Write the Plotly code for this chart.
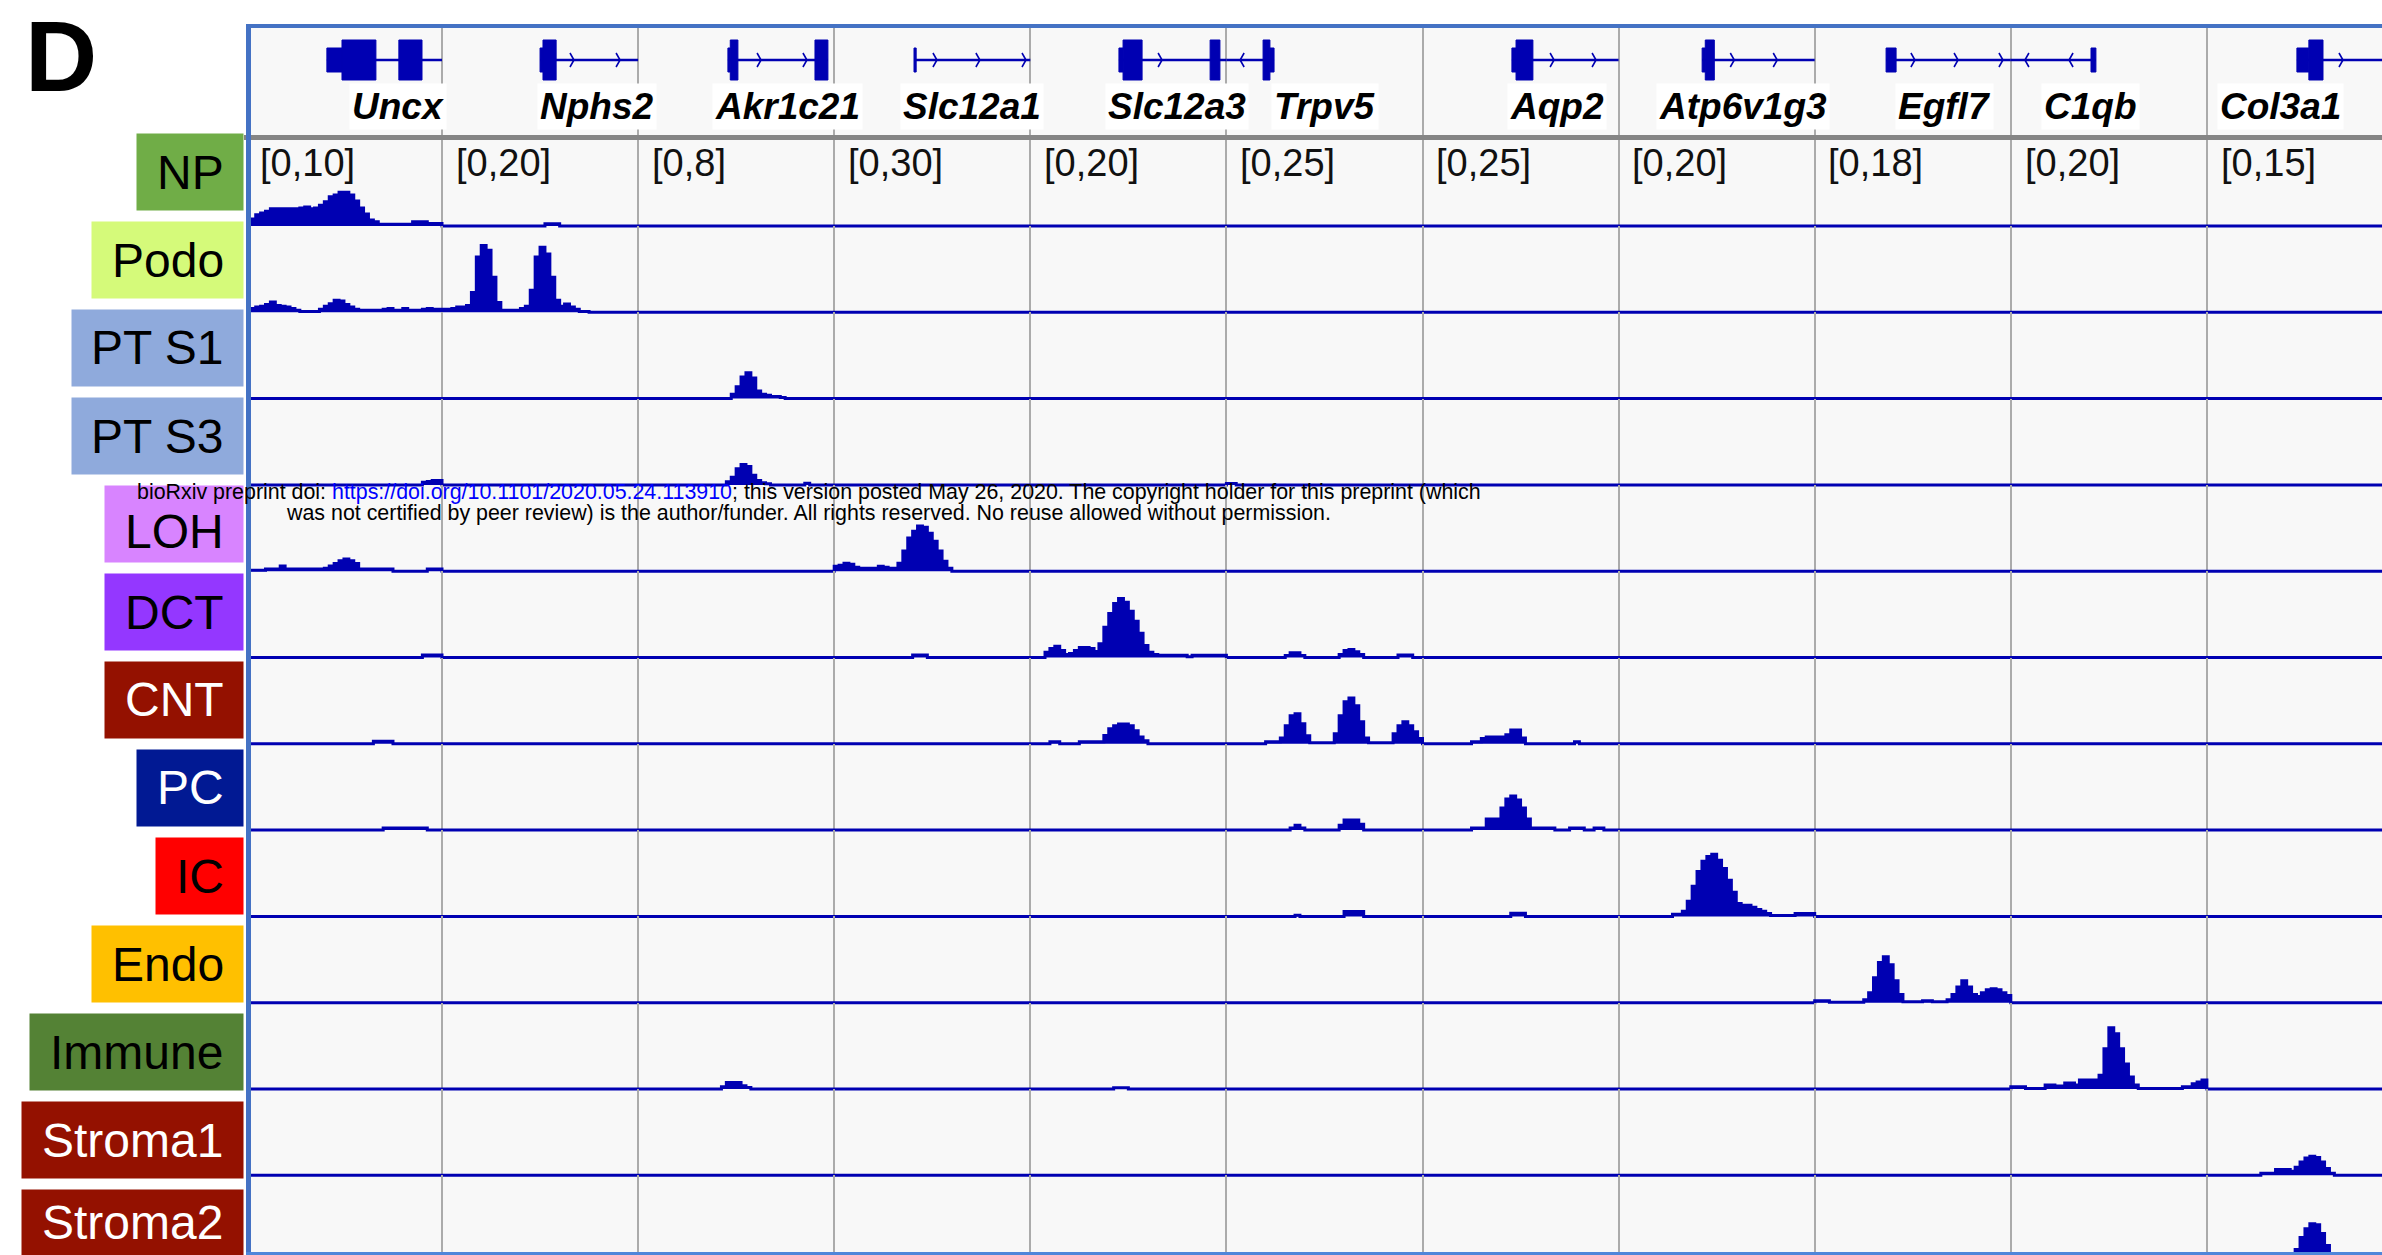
import plotly.graph_objects as go

W, H = 2382, 1255

# ---------------- data ----------------
TRACKS = ["NP", "Podo", "PT S1", "PT S3", "LOH", "DCT", "CNT", "PC", "IC",
          "Endo", "Immune", "Stroma1", "Stroma2"]
GENES = ["Uncx", "Nphs2", "Akr1c21", "Slc12a1", "Slc12a3", "Trpv5", "Aqp2",
         "Atp6v1g3", "Egfl7", "C1qb", "Col3a1"]
RANGE_MAX = [10, 20, 8, 30, 20, 25, 25, 20, 18, 20, 15]
RANGE_LABELS = ["[0,10]", "[0,20]", "[0,8]", "[0,30]", "[0,20]", "[0,25]",
                "[0,25]", "[0,20]", "[0,18]", "[0,20]", "[0,15]"]
N_BINS = 40  # coverage bins per gene window

# coverage per track: {window index: [(first bin, [values...]), ...]}
COV_NP = {
    0: [(0, [0.6, 0.8, 1.3, 1.5, 1.7, 2.0, 2.0, 2.0, 2.0, 2.0, 2.0, 2.1, 2.2, 2.0, 2.1, 2.4,
             2.8, 3.4, 3.6, 3.9, 3.9, 3.6, 2.9, 2.1, 1.4, 0.7, 0.5, 0.2, 0.2, 0.2, 0.2, 0.2,
             0.2, 0.2, 0.5, 0.5, 0.5, 0.3, 0.3, 0.3])],
    1: [(21, [0.5, 0.5, 0.5])],
}
COV_PODO = {
    0: [(0, [0.35, 0.45, 0.6, 0.7, 0.9, 1.2, 0.8, 0.7, 0.6, 0.45, 0.25, 0.1, 0.1, 0.1, 0.1,
             0.35, 0.7, 1.0, 1.4, 1.3, 0.9, 0.6, 0.35, 0.25, 0.25, 0.25, 0.25, 0.25, 0.35,
             0.45, 0.25, 0.25, 0.45, 0.25, 0.25, 0.25, 0.35, 0.45, 0.35, 0.35])],
    1: [(0, [0.7, 0.7, 0.9, 1.2, 1.2, 1.6, 4.6, 12.8, 15.5, 14.4, 8.1, 2.3, 0.5, 0.5, 0.5,
             0.5, 0.9, 1.4, 5.1, 12.8, 15.1, 13.5, 8.1, 2.8, 1.4, 1.9, 1.2, 0.7, 0.2, 0.2])],
}
COV_PTS1 = {
    2: [(19, [0.4, 1.1, 2.0, 2.4, 1.9, 0.7, 0.4, 0.3, 0.2, 0.2, 0.1])],
}
COV_PTS3 = {
    0: [(36, [0.3, 0.4, 0.5, 0.5])],
    2: [(18, [0.3, 0.7, 1.5, 1.9, 1.7, 0.9, 0.4, 0.2, 0.1]), (34, [0.15])],
    5: [(0, [0.4, 0.4])],
}
COV_LOH = {
    0: [(0, [0.1, 0.1, 0.1, 0.1, 0.25, 0.25, 0.25, 0.6, 0.25, 0.25, 0.25, 0.25, 0.25, 0.25,
             0.25, 0.25, 0.35, 0.6, 0.9, 1.2, 1.4, 1.2, 0.9, 0.25, 0.25, 0.25, 0.25, 0.25,
             0.25, 0.25]), (37, [0.25, 0.25, 0.25])],
    3: [(0, [1.7, 2.1, 2.8, 2.4, 1.4, 1.0, 1.0, 1.0, 1.0, 1.7, 1.4, 1.0, 1.0, 2.8, 7.0, 11.5,
             13.9, 15.7, 15.3, 13.2, 10.4, 7.0, 3.5, 1.0])],
}
COV_DCT = {
    0: [(36, [0.3, 0.3, 0.3, 0.3])],
    3: [(16, [0.9, 0.9, 0.9])],
    4: [(0, [0, 0, 0, 1.2, 2.1, 2.6, 1.6, 0.7, 0.9, 1.6, 2.3, 2.3, 2.1, 1.4, 3.2, 7.0, 10.2,
             12.5, 13.7, 12.8, 10.7, 8.4, 5.6, 2.8, 1.2, 0.7, 0.5, 0.5, 0.5, 0.5, 0.5, 0.5,
             0.2, 0.5, 0.5, 0.5, 0.5, 0.5, 0.5, 0.5])],
    5: [(12, [0.6, 1.4, 1.4, 0.6]), (23, [0.9, 2.0, 2.3, 1.7, 0.9]), (35, [0.7, 0.7, 0.7])],
}
COV_CNT = {
    0: [(26, [0.3, 0.3, 0.3, 0.3])],
    4: [(4, [0.5, 0.5]), (10, [0.5, 0.5, 0.5, 0.5, 0.5, 1.9, 3.5, 4.2, 4.6, 4.6, 4.2, 3.0,
                                1.6, 0.7])],
    5: [(8, [0.6, 0.6, 0.6, 1.7, 5.2, 8.1, 8.7, 5.8, 2.3, 0.3, 0.3, 0.3, 0.3, 0.3, 2.9, 8.1,
             12.2, 13.3, 11.0, 6.4, 1.7, 0.3, 0.3, 0.3, 0.3, 0.3, 2.9, 5.2, 6.4, 5.2, 3.5,
             1.5])],
    6: [(10, [0.6, 0.6, 1.5, 2.0, 2.0, 2.0, 2.0, 2.6, 4.0, 4.0, 1.7]), (31, [0.6])],
}
COV_PC = {
    0: [(28, [0.25, 0.25, 0.25, 0.25, 0.25, 0.25, 0.25, 0.25, 0.25])],
    5: [(13, [0.6, 1.4, 0.6]), (23, [1.4, 2.9, 2.9, 2.9, 1.7])],
    6: [(10, [0.6, 0.6, 0.6, 3.2, 3.2, 3.2, 6.4, 9.0, 9.9, 8.7, 6.4, 3.2, 0.6, 0.6, 0.6,
              0.6, 0.6]), (30, [0.6, 0.6, 0.6]), (35, [0.6, 0.6])],
}
COV_IC = {
    5: [(14, [0.3]), (24, [1.4, 1.4, 1.4, 1.4])],
    6: [(18, [0.9, 0.9, 0.9])],
    7: [(11, [0.5, 0.5, 1.2, 3.5, 7.0, 10.4, 12.8, 13.9, 14.4, 13.0, 11.1, 8.4, 5.6, 3.0,
              2.6, 2.6, 2.1, 1.6, 1.2, 0.7, 0.2, 0.2, 0.2, 0.2, 0.2, 0.7, 0.7, 0.7, 0.7])],
}
COV_ENDO = {
    8: [(0, [0.4, 0.4, 0.4, 0.1, 0.1, 0.1, 0.1, 0.1, 0.1, 0.1, 0.6, 2.1, 5.2, 8.4, 9.6, 7.9,
             4.6, 1.7, 0.2, 0.2, 0.2, 0.2, 0.4, 0.4, 0.2, 0.2, 0.2, 0.6, 1.7, 3.3, 4.6, 3.3,
             1.7, 1.3, 2.1, 2.7, 2.9, 2.7, 2.1, 1.5])],
}
COV_IMMUNE = {
    2: [(17, [0.2, 0.6, 0.6, 0.6, 0.3, 0.15])],
    4: [(17, [0.3, 0.3, 0.3])],
    9: [(0, [0.5, 0.5, 0.5, 0.1, 0.1, 0.1, 0.1, 0.9, 0.9, 0.7, 0.7, 1.4, 1.4, 0.9, 2.1, 2.1,
             2.1, 2.1, 3.2, 9.3, 14.2, 12.8, 9.3, 5.8, 2.8, 0.9, 0.1, 0.1, 0.1, 0.1, 0.1,
             0.1, 0.1, 0.1, 0.1, 0.5, 0.5, 1.2, 1.6, 2.1])],
}
COV_STROMA1 = {
    10: [(11, [0.35, 0.35, 0.35, 1.0, 1.0, 1.0, 0.7, 1.4, 2.3, 3.0, 3.3, 3.1, 2.3, 1.2, 0.35])],
}
COV_STROMA2 = {
    10: [(14, [0.35, 0.35, 0.35, 0.35, 2.1, 4.2, 5.7, 6.6, 6.4, 4.9, 2.8, 0.7])],
}
COVERAGE = [COV_NP, COV_PODO, COV_PTS1, COV_PTS3, COV_LOH, COV_DCT, COV_CNT, COV_PC,
            COV_IC, COV_ENDO, COV_IMMUNE, COV_STROMA1, COV_STROMA2]

# gene models (window coordinates: window i spans [i, i+1])
GENE_SPANS = [(0.413, 1.0), (1.500, 2.0), (2.458, 2.968), (3.407, 4.0), (4.452, 5.0),
              (5.0, 5.243), (6.456, 7.0), (7.426, 8.0), (8.364, 9.0), (9.0, 9.434),
              (10.459, 11.0)]
EXONS_THICK = [(0.490, 0.663), (0.780, 0.898), (1.515, 1.582), (2.470, 2.509),
               (2.902, 2.968), (4.473, 4.570), (4.917, 4.967), (5.187, 5.222),
               (6.477, 6.563), (7.442, 7.488), (10.520, 10.592)]
EXONS_THIN = [(0.413, 0.490), (1.500, 1.515), (2.458, 2.470), (3.407, 3.418),
              (4.452, 4.473), (5.222, 5.243), (6.456, 6.477), (7.426, 7.442),
              (8.364, 8.415), (9.409, 9.434), (10.459, 10.520)]
STRAND_MARKS_FWD = [1.673, 1.908, 2.627, 2.861, 3.524, 3.743, 3.978, 4.672, 6.671, 6.885,
                    7.590, 7.809, 8.511, 8.731, 8.960, 10.694]
STRAND_MARKS_REV = [5.070, 9.072, 9.297]
GENE_LABEL_X = [0.776, 1.790, 2.760, 3.703, 4.748, 5.503, 6.686, 7.634, 8.660, 9.404, 10.376]

# ---------------- styles / layout geometry ----------------
LABEL_COLORS = ["#70AD47", "#D5FA7A", "#8FAADC", "#8FAADC", "#D884FF", "#9437FF",
                "#941100", "#011993", "#FF0000", "#FFC000", "#548235", "#941100", "#941100"]
LABEL_TEXT_COLORS = ["black", "black", "black", "black", "black", "black", "white",
                     "white", "black", "black", "black", "white", "white"]
LABEL_WIDTHS = [107, 152, 172, 172, 139, 139, 139, 107, 88, 152, 214, 222, 222]

COV_COLOR = "#0000B2"
FONT = "Liberation Sans, Arial, Helvetica, sans-serif"

X0_PX = 245.9       # pixel of window coordinate 0
WIN_PX = 196.1      # pixels per window
ROW0_BASE = 226.0   # baseline pixel of first track
ROW_PX = 86.3       # track height in pixels
GENE_TOP, GENE_BOT = 26.0, 137.0
FRAME_X = 248.0
BOX_RIGHT = 243.5


def px_x(p):
    return p / W


def px_y(p):
    return 1 - p / H


fig = go.Figure()

# ---------------- gene track ----------------
GY = GENE_BOT - 60.0   # gene centre line in gene-axis units (pixels above track bottom)
ix, iy = [], []
for s, e in GENE_SPANS:
    ix += [s, e, None]
    iy += [GY, GY, None]
fig.add_trace(go.Scatter(x=ix, y=iy, mode="lines", line=dict(color=COV_COLOR, width=2.5),
                         xaxis="x", yaxis="y", hoverinfo="skip"))

for exons, hh in ((EXONS_THICK, 20), (EXONS_THIN, 12)):
    ex, ey = [], []
    for s, e in exons:
        ex += [s, e, e, s, s, None]
        ey += [GY - hh, GY - hh, GY + hh, GY + hh, GY - hh, None]
    fig.add_trace(go.Scatter(x=ex, y=ey, mode="lines", fill="toself", fillcolor=COV_COLOR,
                             line=dict(color=COV_COLOR, width=1), xaxis="x", yaxis="y",
                             hoverinfo="skip"))

cx, cy = [], []
dxw = 4.0 / WIN_PX
for pos_list, d in ((STRAND_MARKS_FWD, 1), (STRAND_MARKS_REV, -1)):
    for c in pos_list:
        cx += [c - d * dxw, c, c - d * dxw, None]
        cy += [GY + 7, GY, GY - 7, None]
fig.add_trace(go.Scatter(x=cx, y=cy, mode="lines", line=dict(color=COV_COLOR, width=1.6),
                         xaxis="x", yaxis="y", hoverinfo="skip"))

# ---------------- coverage tracks ----------------
layout_axes = {}
for r, cov in enumerate(COVERAGE):
    xs, ys = [], []
    for c in range(len(GENES)):
        vals = [0.0] * N_BINS
        for start, seg in cov.get(c, []):
            for i, v in enumerate(seg):
                if start + i < N_BINS:
                    vals[start + i] = v
        for b in range(N_BINS):
            xs.append(c + b / N_BINS)
            ys.append(vals[b] / RANGE_MAX[c])
    xs.append(float(len(GENES)))
    ys.append(ys[-1])
    yname = "y%d" % (r + 2)
    fig.add_trace(go.Scatter(x=xs, y=ys, mode="lines", line_shape="hv", fill="tozeroy",
                             fillcolor=COV_COLOR, line=dict(color=COV_COLOR, width=3),
                             xaxis="x", yaxis=yname, name=TRACKS[r], hoverinfo="skip"))
    yb = ROW0_BASE + ROW_PX * r
    top = yb - ROW_PX
    bot = min(yb + 3.0, H)
    layout_axes["yaxis%d" % (r + 2)] = dict(
        domain=[px_y(bot), px_y(top)], range=[(yb - bot) / ROW_PX, 1.0],
        visible=False, showgrid=False, zeroline=False, fixedrange=True)

layout_axes["yaxis"] = dict(domain=[px_y(GENE_BOT), px_y(GENE_TOP)],
                            range=[0, GENE_BOT - GENE_TOP], visible=False,
                            showgrid=False, zeroline=False)

x_lo = (FRAME_X - X0_PX) / WIN_PX
x_hi = (W - X0_PX) / WIN_PX
layout_axes["xaxis"] = dict(domain=[px_x(FRAME_X), 1.0], range=[x_lo, x_hi],
                            tickvals=list(range(1, len(GENES))), showticklabels=False,
                            ticks="", showline=False, zeroline=False, showgrid=True,
                            gridcolor="#ABABAB", gridwidth=1.5)

annotations = []
shapes = [
    dict(type="rect", xref="paper", yref="paper", x0=px_x(FRAME_X), x1=1, y0=0,
         y1=px_y(GENE_TOP), fillcolor="#F8F8F8", line=dict(width=0), layer="below"),
]

# gene labels
for g, gx in zip(GENES, GENE_LABEL_X):
    annotations.append(dict(x=gx, y=GENE_BOT - 106, xref="x", yref="y",
                            text="<b><i>%s</i></b>" % g, showarrow=False,
                            font=dict(family=FONT, size=37, color="black"),
                            bgcolor="white", borderpad=2, xanchor="center", yanchor="middle"))
# data range labels (first track)
for c, lab in enumerate(RANGE_LABELS):
    annotations.append(dict(x=c + 0.06, y=px_y(163), xref="x", yref="paper", text=lab,
                            showarrow=False, xanchor="left", yanchor="middle",
                            font=dict(family=FONT, size=38, color="#111111")))
# track name boxes (coloured rectangle + centred name)
for r, name in enumerate(TRACKS):
    yc = 172 + 88.0 * r
    y_top, y_bot = yc - 38.5, min(yc + 38.5, H)
    shapes.append(dict(type="rect", xref="paper", yref="paper",
                       x0=px_x(BOX_RIGHT - LABEL_WIDTHS[r]), x1=px_x(BOX_RIGHT),
                       y0=px_y(y_bot), y1=px_y(y_top), fillcolor=LABEL_COLORS[r],
                       line=dict(width=0), layer="above"))
    ty = (y_top + y_bot) / 2
    if name == "LOH":
        ty += 7.5
    annotations.append(dict(x=px_x(BOX_RIGHT - LABEL_WIDTHS[r] / 2), y=px_y(ty),
                            xref="paper", yref="paper", text=name, showarrow=False,
                            xanchor="center", yanchor="middle", borderpad=0,
                            font=dict(family=FONT, size=48, color=LABEL_TEXT_COLORS[r])))
# panel letter
annotations.append(dict(x=px_x(24), y=px_y(56), xref="paper", yref="paper", text="<b>D</b>",
                        showarrow=False, xanchor="left", yanchor="middle", borderpad=0,
                        font=dict(family=FONT, size=100, color="black")))
# preprint notice
annotations.append(dict(
    x=px_x(809), y=px_y(492), xref="paper", yref="paper", showarrow=False, borderpad=0,
    xanchor="center", yanchor="middle", font=dict(family=FONT, size=21.4, color="black"),
    text='bioRxiv preprint doi: <span style="color:#0000FF">https://doi.org/10.1101/2020.05.24.113910</span>; '
         'this version posted May 26, 2020. The copyright holder for this preprint (which'))
annotations.append(dict(
    x=px_x(808), y=px_y(513), xref="paper", yref="paper", showarrow=False, borderpad=0,
    xanchor="center", yanchor="middle", font=dict(family=FONT, size=21.4, color="black"),
    text="was not certified by peer review) is the author/funder. All rights reserved. "
         "No reuse allowed without permission."))

shapes += [
    dict(type="line", xref="paper", yref="paper", x0=px_x(244), x1=1, y0=px_y(137.5),
         y1=px_y(137.5), line=dict(color="#858585", width=5), layer="above"),
    dict(type="line", xref="paper", yref="paper", x0=px_x(246), x1=1, y0=px_y(26),
         y1=px_y(26), line=dict(color="#4472C4", width=4), layer="above"),
    dict(type="line", xref="paper", yref="paper", x0=px_x(FRAME_X + 0.5), x1=px_x(FRAME_X + 0.5),
         y0=px_y(24), y1=0, line=dict(color="#4472C4", width=5), layer="above"),
    dict(type="line", xref="paper", yref="paper", x0=px_x(246), x1=1, y0=px_y(1253.5),
         y1=px_y(1253.5), line=dict(color="#4F86DA", width=3), layer="above"),
]

fig.update_layout(
    width=W, height=H, margin=dict(l=0, r=0, t=0, b=0, pad=0),
    paper_bgcolor="white", plot_bgcolor="rgba(0,0,0,0)", showlegend=False,
    annotations=annotations, shapes=shapes, font=dict(family=FONT),
    **layout_axes)

fig.write_html("out.html", config={"displayModeBar": False},
               post_script="document.body.style.margin='0px';document.body.style.padding='0px';"
                           "document.body.style.overflow='hidden';")
